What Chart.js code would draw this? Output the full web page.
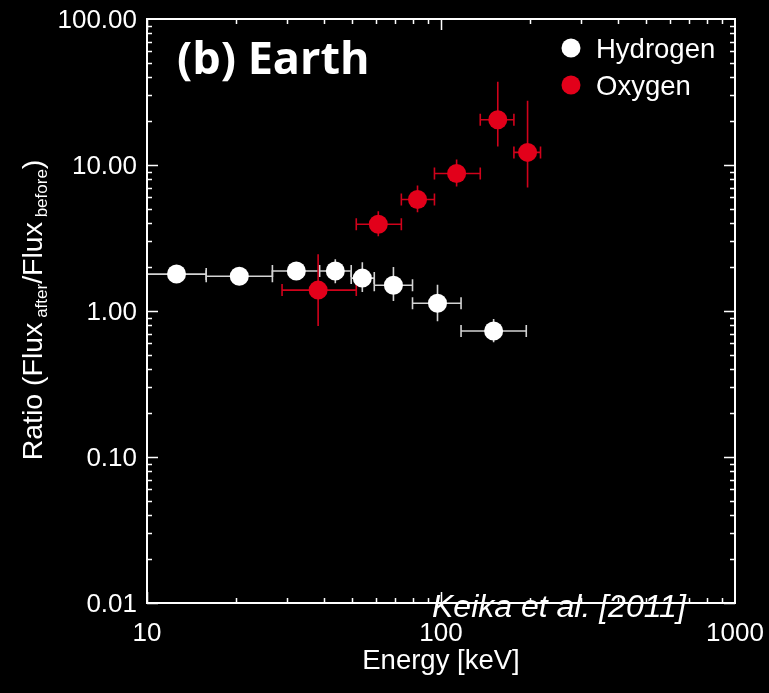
<!DOCTYPE html>
<html>
<head>
<meta charset="utf-8">
<script src="https://cdn.jsdelivr.net/npm/chart.js@4.4.1/dist/chart.umd.min.js"></script>
<style>
  html, body { margin: 0; padding: 0; background: #000; }
  #wrap { width: 769px; height: 693px; }
</style>
</head>
<body>
<div id="wrap"><canvas id="chart" width="769" height="693"></canvas></div>
<script>
// Hydrogen: energy (keV) with bin range, ratio with error range
const energyH     = [12.6, 20.6, 32.2, 43.7, 54.0, 68.9, 97.3, 151];
const energyHLow  = [10.0, 15.9, 26.7, 38.6, 49.5, 59.3, 80.0, 117];
const energyHHigh = [15.9, 26.7, 38.6, 49.5, 59.3, 80.0, 117, 195];
const ratioH      = [1.79, 1.73, 1.88, 1.88, 1.68, 1.50, 1.13, 0.73];
const ratioHLow   = [1.70, 1.65, 1.80, 1.55, 1.35, 1.17, 0.85, 0.61];
const ratioHHigh  = [1.88, 1.82, 1.96, 2.26, 2.16, 2.00, 1.51, 0.88];

// Oxygen
const energyO     = [38.2, 61.2, 83.2, 113, 156, 197];
const energyOLow  = [28.8, 51.5, 73.3, 95.0, 136, 177];
const energyOHigh = [51.5, 73.3, 95.0, 136, 177, 218];
const ratioO      = [1.39, 3.93, 5.81, 8.75, 20.4, 12.2];
const ratioOLow   = [0.79, 3.25, 4.74, 7.13, 13.4, 7.0];
const ratioOHigh  = [2.45, 4.82, 7.24, 10.9, 37.2, 27.6];

// axis labels
const xTickValues = [10, 100, 1000];
const xTickLabels = ['10', '100', '1000'];
const yTickValues = [0.01, 0.1, 1, 10, 100];
const yTickLabels = ['0.01', '0.10', '1.00', '10.00', '100.00'];

const WHITE = '#ffffff';
const RED = '#e2001a';
const FONT = '"Liberation Sans", Arial, sans-serif';

function toPoints(xs, ys) {
  return xs.map((x, i) => ({ x: x, y: ys[i] }));
}

// error bars + axes box + texts
const decorations = {
  id: 'decorations',
  beforeDatasetsDraw(chart) {
    const ctx = chart.ctx;
    const xs = chart.scales.x, ys = chart.scales.y;
    const sets = [
      { e: energyH, lo: energyHLow, hi: energyHHigh, r: ratioH, rlo: ratioHLow, rhi: ratioHHigh, color: '#d4d4d4' },
      { e: energyO, lo: energyOLow, hi: energyOHigh, r: ratioO, rlo: ratioOLow, rhi: ratioOHigh, color: '#d0021b' }
    ];
    const cap = 6;
    ctx.save();
    ctx.lineWidth = 1.6;
    sets.forEach(s => {
      ctx.strokeStyle = s.color;
      s.e.forEach((e, i) => {
        const px = xs.getPixelForValue(e);
        const py = ys.getPixelForValue(s.r[i]);
        const x0 = xs.getPixelForValue(s.lo[i]);
        const x1 = xs.getPixelForValue(s.hi[i]);
        const y0 = ys.getPixelForValue(s.rlo[i]);
        const y1 = ys.getPixelForValue(s.rhi[i]);
        ctx.beginPath();
        ctx.moveTo(x0, py); ctx.lineTo(x1, py);
        ctx.moveTo(x0, py - cap); ctx.lineTo(x0, py + cap);
        ctx.moveTo(x1, py - cap); ctx.lineTo(x1, py + cap);
        ctx.moveTo(px, y0); ctx.lineTo(px, y1);
        ctx.stroke();
      });
    });
    ctx.restore();
  },
  afterDraw(chart) {
    const ctx = chart.ctx;
    const xs = chart.scales.x, ys = chart.scales.y;
    const a = chart.chartArea;
    ctx.save();
    ctx.strokeStyle = WHITE;
    ctx.fillStyle = WHITE;
    ctx.lineWidth = 2;
    ctx.strokeRect(a.left, a.top, a.right - a.left, a.bottom - a.top);

    // ticks inward, on all four sides
    ctx.lineWidth = 1.5;
    ctx.beginPath();
    for (let d = 1; d < 3; d++) {
      for (let m = 1; m <= 9; m++) {
        const v = m * Math.pow(10, d);
        const px = Math.round(xs.getPixelForValue(v)) + 0.5;
        const len = m === 1 ? 11 : 5;
        ctx.moveTo(px, a.bottom); ctx.lineTo(px, a.bottom - len);
        ctx.moveTo(px, a.top); ctx.lineTo(px, a.top + len);
      }
    }
    for (let d = -2; d < 2; d++) {
      for (let m = 1; m <= 9; m++) {
        const v = m * Math.pow(10, d);
        const py = Math.round(ys.getPixelForValue(v)) + 0.5;
        const len = m === 1 ? 11 : 5;
        ctx.moveTo(a.left, py); ctx.lineTo(a.left + len, py);
        ctx.moveTo(a.right, py); ctx.lineTo(a.right - len, py);
      }
    }
    ctx.stroke();

    // tick labels
    ctx.font = '26px ' + FONT;
    ctx.textAlign = 'right';
    ctx.textBaseline = 'middle';
    yTickValues.forEach((v, i) => {
      ctx.fillText(yTickLabels[i], a.left - 10, ys.getPixelForValue(v) + 2);
    });
    ctx.textAlign = 'center';
    xTickValues.forEach((v, i) => {
      ctx.fillText(xTickLabels[i], xs.getPixelForValue(v), a.bottom + 31);
    });

    // axis titles
    ctx.font = '27.5px ' + FONT;
    ctx.fillText('Energy [keV]', xs.getPixelForValue(100), 661);

    const segs = [
      { t: 'Ratio (Flux', f: '28.5px ', dy: 0 },
      { t: ' after', f: '17px ', dy: 5 },
      { t: '/Flux', f: '28.5px ', dy: 0 },
      { t: ' before', f: '17px ', dy: 5 },
      { t: ')', f: '28.5px ', dy: 0 }
    ];
    let total = 0;
    segs.forEach(s => { ctx.font = s.f + FONT; s.w = ctx.measureText(s.t).width; total += s.w; });
    ctx.save();
    ctx.translate(42, 310);
    ctx.rotate(-Math.PI / 2);
    ctx.textAlign = 'left';
    ctx.textBaseline = 'alphabetic';
    let cx = -total / 2;
    segs.forEach(s => {
      ctx.font = s.f + FONT;
      ctx.fillText(s.t, cx, s.dy);
      cx += s.w;
    });
    ctx.restore();

    // panel title
    ctx.textAlign = 'left';
    ctx.textBaseline = 'alphabetic';
    ctx.font = 'bold 45px "Open Sans", sans-serif';
    ctx.fillText('(b) Earth', 177, 74);

    // legend
    ctx.font = '27.5px ' + FONT;
    [['Hydrogen', WHITE, 48], ['Oxygen', RED, 85]].forEach(([label, col, y]) => {
      ctx.fillStyle = col;
      ctx.beginPath();
      ctx.arc(571, y, 9.5, 0, Math.PI * 2);
      ctx.fill();
      ctx.fillStyle = WHITE;
      ctx.fillText(label, 596, y + 9.5);
    });

    // citation
    ctx.font = 'italic 32px ' + FONT;
    ctx.fillText('Keika et al. [2011]', 432, 617);
    ctx.restore();
  }
};

new Chart(document.getElementById('chart'), {
  type: 'scatter',
  data: {
    datasets: [
      {
        label: 'Hydrogen',
        data: toPoints(energyH, ratioH),
        pointRadius: 9.5,
        pointBackgroundColor: WHITE,
        pointBorderWidth: 0
      },
      {
        label: 'Oxygen',
        data: toPoints(energyO, ratioO),
        pointRadius: 9.5,
        pointBackgroundColor: RED,
        pointBorderWidth: 0
      }
    ]
  },
  options: {
    responsive: false,
    animation: false,
    events: [],
    layout: { padding: { top: 19, right: 34, left: 0, bottom: 0 } },
    plugins: { legend: { display: false }, tooltip: { enabled: false } },
    scales: {
      x: {
        type: 'logarithmic',
        min: 10, max: 1000,
        grid: { display: false },
        border: { display: false },
        ticks: { display: false },
        afterFit(scale) { scale.height = 90; }
      },
      y: {
        type: 'logarithmic',
        min: 0.01, max: 100,
        grid: { display: false },
        border: { display: false },
        ticks: { display: false },
        afterFit(scale) { scale.width = 147; }
      }
    }
  },
  plugins: [decorations]
});
</script>
</body>
</html>
